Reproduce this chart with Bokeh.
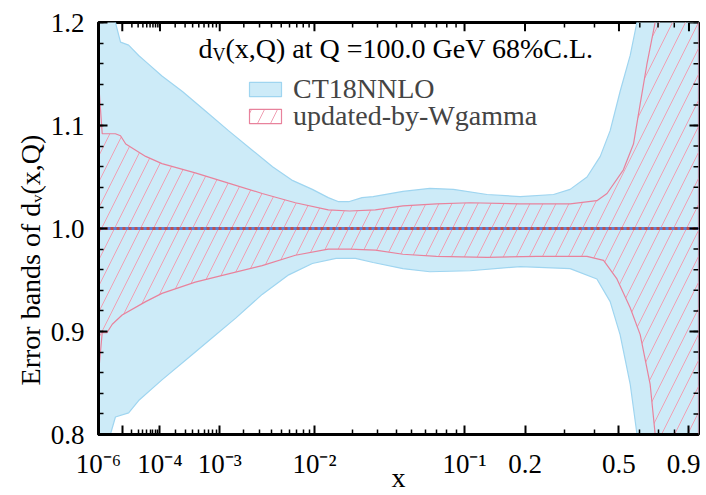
import numpy as np
from bokeh.plotting import figure
from bokeh.models import (Range1d, FixedTicker, Label, Legend, LegendItem,
                          CustomJSTickFormatter, PrintfTickFormatter, AllLabels)
from bokeh.embed import file_html
from bokeh.resources import INLINE

# ---------------- data (x, ratio) ----------------
ct_up_x = [1e-6, 3e-6, 5.7e-6, 8.7e-6, 1.6e-5, 3.1e-5, 4.7e-5, 1.1e-4, 2.7e-4, 6.3e-4,
           1.3e-3, 2.5e-3, 4.1e-3, 6.3e-3, 9.6e-3, 1.3e-2, 1.57e-2, 1.87e-2, 2.34e-2, 2.8e-2,
           4.4e-2, 6.4e-2, 8.7e-2, 0.131, 0.19, 0.269, 0.317, 0.373, 0.422, 0.462,
           0.505, 0.552, 0.585, 0.65, 0.97]
ct_up_y = [1.35, 1.26, 1.20, 1.181, 1.178, 1.168, 1.162, 1.148, 1.133, 1.114,
           1.095, 1.076, 1.060, 1.047, 1.038, 1.030, 1.026, 1.026, 1.030, 1.031,
           1.036, 1.039, 1.038, 1.033, 1.031, 1.033, 1.038, 1.050, 1.070, 1.095,
           1.133, 1.168, 1.20, 1.30, 1.60]

ct_lo_x = [1e-6, 3.6e-6, 5.7e-6, 1.6e-5, 3.1e-5, 1.1e-4, 3.5e-4, 7.9e-4, 1.6e-3, 3.2e-3,
           5.9e-3, 9.6e-3, 1.5e-2, 2.1e-2, 2.8e-2, 4.4e-2, 6.4e-2, 0.107, 0.19, 0.317,
           0.409, 0.462, 0.505, 0.552, 0.585, 0.65, 0.97]
ct_lo_y = [0.70, 0.80, 0.817, 0.821, 0.833, 0.853, 0.875, 0.894, 0.913, 0.936,
           0.955, 0.966, 0.971, 0.971, 0.967, 0.961, 0.958, 0.959, 0.963, 0.961,
           0.951, 0.929, 0.897, 0.849, 0.801, 0.70, 0.40]

wg_up_x = [1e-6, 1.55e-6, 5.7e-6, 8.7e-6, 1.3e-5, 4.7e-5, 1.1e-4, 4.4e-4, 1.3e-3, 3.2e-3,
           6.8e-3, 1.3e-2, 1.9e-2, 2.9e-2, 4.4e-2, 7.0e-2, 0.107, 0.19, 0.317, 0.409,
           0.449, 0.52, 0.568, 0.602, 0.637, 0.683, 0.97]
wg_up_y = [1.143, 1.092, 1.092, 1.090, 1.082, 1.070, 1.063, 1.054, 1.044, 1.034,
           1.025, 1.018, 1.017, 1.018, 1.022, 1.024, 1.025, 1.024, 1.024, 1.027,
           1.034, 1.057, 1.082, 1.121, 1.159, 1.20, 1.50]

wg_lo_x = [1e-6, 1.55e-6, 2.6e-6, 4.3e-6, 9.9e-6, 4.7e-5, 1.1e-4, 4.4e-4, 1.3e-3, 3.2e-3,
           6.8e-3, 1.3e-2, 1.9e-2, 2.9e-2, 4.4e-2, 7.0e-2, 0.131, 0.227, 0.373, 0.435,
           0.491, 0.552, 0.602, 0.655, 0.683, 0.97]
wg_lo_y = [0.859, 0.899, 0.899, 0.907, 0.916, 0.929, 0.937, 0.948, 0.956, 0.964,
           0.974, 0.980, 0.980, 0.979, 0.975, 0.973, 0.972, 0.973, 0.973, 0.969,
           0.951, 0.923, 0.897, 0.849, 0.801, 0.50]

central_x = [1e-6, 0.97]
central_y = [1.0, 1.0]

x_major = [1e-6, 1e-5, 1e-4, 1e-3, 1e-2, 0.1, 0.2, 0.5, 0.9]
x_major_labels = ["10\u207b\u2076", "", "10\u207b\u2074", "10\u207b\u00b3", "10\u207b\u00b2",
                  "10\u207b\u00b9", "0.2", "0.5", "0.9"]
x_minor = [m * d for d in [1e-5, 1e-4, 1e-3, 1e-2] for m in range(2, 10)] + [0.3, 0.4, 0.6, 0.7, 0.8]
y_major = [0.8, 0.9, 1.0, 1.1, 1.2]
y_minor = [round(0.8 + 0.02 * i, 2) for i in range(21)]

X_MIN, X_MAX, Y_MIN, Y_MAX = 1e-6, 0.97, 0.8, 1.2
POW = 0.2  # x axis drawn on an x^0.2 scale


def tr(v):
    return np.asarray(v, dtype=float) ** POW


FONT = "Liberation Serif"
BLUE_FILL = "#cdebf8"
BLUE_LINE = "#9fd5f0"
PINK_LINE = "#e8829c"
PINK_HATCH = "#f09fb3"

W, H = 700, 495
BL, BR, BT, BB = 98, 2, 22, 55
FRAME_W, FRAME_H = W - BL - BR, H - BT - BB

u0 = float(tr(X_MIN)) - 1e-9
u1 = float(tr(X_MAX))

p = figure(width=W, height=H, output_backend="svg", toolbar_location=None,
           x_range=Range1d(u0, u1), y_range=Range1d(Y_MIN, Y_MAX),
           min_border_left=BL, min_border_right=BR, min_border_top=BT, min_border_bottom=BB)
p.grid.visible = False
p.outline_line_color = "black"
p.outline_line_width = 3
p.background_fill_color = "white"
p.border_fill_color = "white"

ct_xs = np.concatenate([tr(ct_up_x), tr(ct_lo_x)[::-1]])
ct_ys = np.concatenate([ct_up_y, ct_lo_y[::-1]])
wg_xs = np.concatenate([tr(wg_up_x), tr(wg_lo_x)[::-1]])
wg_ys = np.concatenate([wg_up_y, wg_lo_y[::-1]])

r_ct = p.patch(ct_xs, ct_ys, fill_color=BLUE_FILL, line_color=BLUE_LINE, line_width=1.2)
r_wg = p.patch(wg_xs, wg_ys, fill_alpha=0, line_color=PINK_LINE, line_width=1.2,
               hatch_pattern="/", hatch_color=PINK_HATCH, hatch_scale=26, hatch_weight=1)
p.line(tr(central_x), central_y, line_color="#5a7fd9", line_width=3)
p.line(tr(central_x), central_y, line_color="#c0504d", line_width=3, line_dash="3 3")

# ticks
xt_major = [float(round(v, 12)) for v in tr(x_major)]
xt_minor = [float(round(v, 12)) for v in tr(x_minor)]
xticker = FixedTicker(ticks=xt_major, minor_ticks=xt_minor)
yticker = FixedTicker(ticks=y_major, minor_ticks=y_minor)

xfmt = CustomJSTickFormatter(args=dict(tvals=xt_major, tlabels=x_major_labels), code="""
let best = 0, d = 1e9;
for (let i = 0; i < tvals.length; i++) {
  const dd = Math.abs(tvals[i] - tick);
  if (dd < d) { d = dd; best = i; }
}
return tlabels[best];
""")

bottom = p.below[0]
left = p.left[0]
bottom.ticker = xticker
bottom.formatter = xfmt
bottom.major_label_policy = AllLabels()
left.ticker = yticker
left.formatter = PrintfTickFormatter(format="%.1f")

MAJ, MIN = 9, 5
for ax in [bottom, left]:
    ax.axis_line_color = "black"
    ax.axis_line_width = 3
    ax.major_tick_in = MAJ
    ax.major_tick_out = 0
    ax.minor_tick_in = MIN
    ax.minor_tick_out = 0
    ax.major_tick_line_color = "black"
    ax.minor_tick_line_color = "black"
    ax.major_tick_line_width = 2
    ax.minor_tick_line_width = 1.5
    ax.major_label_text_font = FONT
    ax.major_label_text_font_size = "27px"
    ax.major_label_text_color = "black"

bottom.major_label_standoff = 14
left.major_label_standoff = 14

bottom.axis_label = "x"
bottom.axis_label_text_font = FONT
bottom.axis_label_text_font_size = "28px"
bottom.axis_label_text_font_style = "normal"
bottom.axis_label_text_color = "black"
bottom.axis_label_standoff = -20

left.axis_label = "Error bands of d\u1d65(x,Q)" + "\u00a0" * 9
left.axis_label_text_font = FONT
left.axis_label_text_font_size = "28px"
left.axis_label_text_font_style = "normal"
left.axis_label_text_color = "black"
left.axis_label_standoff = 2

# mirrored ticks on the top and right frame edges (same tick values as the axes)
dy_per_px = (Y_MAX - Y_MIN) / FRAME_H
dx_per_px = (u1 - u0) / FRAME_W
for vals, L, w in [(xt_major, MAJ, 2), (xt_minor, MIN, 1.5)]:
    n = len(vals)
    p.segment(x0=vals, y0=[Y_MAX] * n, x1=vals, y1=[Y_MAX - L * dy_per_px] * n,
              line_color="black", line_width=w)
for vals, L, w in [(y_major, MAJ, 2), (y_minor, MIN, 1.5)]:
    n = len(vals)
    p.segment(x0=[u1] * n, y0=vals, x1=[u1 - L * dx_per_px] * n, y1=vals,
              line_color="black", line_width=w)

# title inside the plot (with subscript V)
title_parts = [("d", 100, 386, "28px"), ("V", 114, 380, "18px"),
               ("(x,Q) at Q =100.0 GeV 68%C.L.", 127, 386, "28px")]
for txt, xo, yo, fs in title_parts:
    p.add_layout(Label(x=xo, y=yo, x_units="screen", y_units="screen", text=txt,
                       text_font=FONT, text_font_size=fs, text_color="black",
                       text_baseline="alphabetic", text_align="left"))

legend_style = dict(background_fill_alpha=0, border_line_color=None, label_text_font=FONT,
                    label_text_font_size="28px", glyph_width=40, glyph_height=18,
                    label_standoff=8, padding=0, margin=0, spacing=0)
p.add_layout(Legend(items=[LegendItem(label="CT18NNLO", renderers=[r_ct])],
                    location=(147, 329), **legend_style))
p.add_layout(Legend(items=[LegendItem(label="updated-by-Wgamma", renderers=[r_wg])],
                    location=(147, 302), **legend_style))

open("out.html", "w").write(file_html(p, INLINE))
